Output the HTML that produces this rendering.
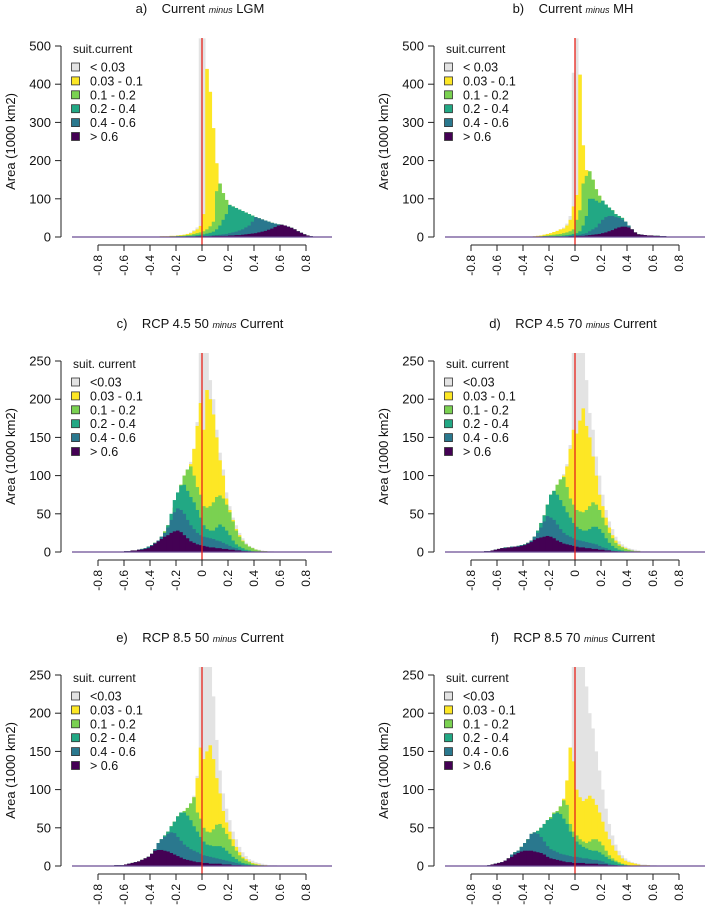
<!DOCTYPE html>
<html><head><meta charset="utf-8">
<style>
html,body{margin:0;padding:0;background:#fff;}
svg{display:block;font-family:"Liberation Sans",Arial,sans-serif;}
</style></head>
<body>
<svg id="chart" width="708" height="911" viewBox="0 0 708 911" xmlns="http://www.w3.org/2000/svg"></svg>
<script>
// ---- data: overlaid (cumulative) heights per class, bins of 0.025 starting at -0.8 ----
const binStart = -0.8;
const binWidth = 0.025;
const classLabelsA = ["< 0.03","0.03 - 0.1","0.1 - 0.2","0.2 - 0.4","0.4 - 0.6","> 0.6"];
const classLabelsC = ["<0.03","0.03 - 0.1","0.1 - 0.2","0.2 - 0.4","0.4 - 0.6","> 0.6"];
const xTickLabels = ["-0.8","-0.6","-0.4","-0.2","0","0.2","0.4","0.6","0.8"];
const xTickValues = [-0.8,-0.6,-0.4,-0.2,0,0.2,0.4,0.6,0.8];
const yTicksBig = [0,100,200,300,400,500];
const yTicksSmall = [0,50,100,150,200,250];

const aG = [0,0,0,0,0,0,0,0,0,0,0,0,0,0,0,0, 1,1,1,2, 2,2,3,3, 4,5,6,8, 12,18,25,520, 520,440,380,285, 193,140,115,97, 84,80,76,72, 68,64,60,56, 52,49,46,43, 40,37,35,33, 32,30,27,24, 20,15,11,7, 4,2,1,0];
const aY = [0,0,0,0,0,0,0,0,0,0,0,0,0,0,0,0, 1,1,1,2, 2,2,3,3, 4,5,6,8, 10,15,20,29, 60,440,380,285, 193,140,115,97, 84,80,76,72, 68,64,60,56, 52,49,46,43, 40,37,35,33, 32,30,27,24, 20,15,11,7, 4,2,1,0];
const aL = [0,0,0,0,0,0,0,0,0,0,0,0,0,0,0,0, 1,1,1,1, 1,1,2,2, 3,3,4,5, 6,8,10,12, 15,20,28,40, 120,140,115,97, 84,80,76,72, 68,64,60,56, 52,49,46,43, 40,37,35,33, 32,30,27,24, 20,15,11,7, 4,2,1,0];
const aT = [0,0,0,0,0,0,0,0,0,0,0,0,0,0,0,0, 1,1,1,1, 1,1,1,1, 2,2,2,3, 3,4,5,6, 7,9,11,14, 20,30,45,60, 84,80,76,72, 68,64,60,56, 52,49,46,43, 40,37,35,33, 32,30,27,24, 20,15,11,7, 4,2,1,0];
const aB = [0,0,0,0,0,0,0,0,0,0,0,0,0,0,0,0, 0,0,0,0, 1,1,1,1, 1,1,1,2, 2,2,2,3, 3,3,4,4, 5,6,7,8, 10,12,14,17, 20,25,30,40, 52,49,46,43, 40,37,35,33, 32,30,27,24, 20,15,11,7, 4,2,1,0];
const aP = [0,0,0,0,0,0,0,0,0,0,0,0,0,0,0,0, 0,0,0,0, 0,0,0,0, 1,1,1,1, 1,1,2,2, 2,2,2,3, 3,3,3,3, 4,4,5,5, 6,7,8,9, 10,12,14,16, 19,22,26,30, 32,30,27,24, 20,15,11,7, 4,2,1,0];

const bG = [0,0,0,0,0,0,0,0,0,0,0,0,0,0,0,0, 1,1,1,2, 3,4,6,8, 10,13,16,20, 25,35,55,430, 520,425,240,175, 172,150,125,108, 95,85,77,70, 60,55,50,40, 30,20,12,7, 6,5,4,4, 3,3,2,2, 1,1,0,0];
const bY = [0,0,0,0,0,0,0,0,0,0,0,0,0,0,0,0, 1,1,1,2, 3,4,6,8, 10,13,16,20, 22,30,45,80, 110,425,240,175, 172,150,125,108, 95,85,77,70, 60,55,50,40, 30,20,12,7, 6,5,4,4, 3,3,2,2, 1,1,0,0];
const bL = [0,0,0,0,0,0,0,0,0,0,0,0,0,0,0,0, 1,1,1,1, 1,2,3,4, 5,6,7,8, 10,12,15,20, 45,70,140,160, 172,150,125,108, 95,85,77,70, 60,55,50,40, 30,20,12,7, 6,5,4,4, 3,3,2,2, 1,1,0,0];
const bT = [0,0,0,0,0,0,0,0,0,0,0,0,0,0,0,0, 0,0,0,0, 1,1,2,2, 2,2,3,3, 4,5,6,8, 10,15,30,55, 100,100,95,90, 95,85,77,70, 60,55,50,40, 30,20,12,7, 6,5,4,4, 3,3,2,2, 1,1,0,0];
const bB = [0,0,0,0,0,0,0,0,0,0,0,0,0,0,0,0, 0,0,0,0, 0,0,0,0, 1,1,1,1, 1,2,3,4, 5,6,8,10, 15,20,25,35, 45,52,55,55, 52,50,45,40, 30,20,12,7, 6,5,4,4, 3,3,2,2, 1,1,0,0];
const bP = [0,0,0,0,0,0,0,0,0,0,0,0,0,0,0,0, 0,0,0,0, 0,0,0,0, 0,0,1,1, 1,1,2,2, 3,3,3,4, 5,6,7,8, 10,12,15,18, 22,25,27,27, 25,20,12,7, 6,5,4,4, 3,3,2,2, 1,1,0,0];

const cG = [0,0,0,0,0,0,0,0, 1,1,2,2, 3,4,5,7, 9,12,15,20, 27,35,45,58, 75,88,100,108, 118,135,170,262, 262,262,225,200, 160,130,108,78, 60,45,35,25, 18,12,8,6, 4,3,2,1, 1,1,0,0];
const cY = [0,0,0,0,0,0,0,0, 1,1,2,2, 3,4,5,7, 9,12,15,20, 27,35,45,58, 75,88,100,108, 115,135,165,195, 160,212,200,180, 150,120,100,70, 55,42,30,22, 15,10,7,5, 3,2,1,1, 0,0,0,0];
const cL = [0,0,0,0,0,0,0,0, 1,1,2,2, 3,4,5,7, 9,12,15,20, 27,35,45,58, 75,88,100,108, 112,100,85,75, 60,58,60,65, 72,74,70,62, 52,40,28,20, 14,10,7,5, 3,2,1,1, 0,0,0,0];
const cT = [0,0,0,0,0,0,0,0, 1,1,2,2, 3,4,5,7, 9,12,15,20, 25,35,50,68, 78,87,88,80, 72,65,55,45, 35,30,28,28, 32,36,33,28, 22,15,10,7, 5,3,2,1];
const cB = [0,0,0,0,0,0,0,0, 1,1,2,2, 3,4,5,7, 9,12,15,20, 25,32,42,52, 57,55,50,42, 35,30,25,22, 20,19,18,17, 15,14,12,10, 8,6,5,3, 2,1,1,0];
const cP = [0,0,0,0,0,0,0,0, 1,1,2,2, 3,3,4,5, 8,11,14,17, 20,22,25,27, 28,26,22,18, 14,12,10,9, 8,7,6,6, 5,5,4,4, 3,3,2,2, 1,1,0,0];

const dG = [0,0,0,0, 1,1,2,3, 4,5,6,6, 7,7,8,9, 10,12,15,20, 28,38,48,62, 75,80,88,95, 102,115,140,262, 262,262,262,225, 182,160,125,100, 75,55,40,30, 20,14,10,7, 5,4,3,2, 1,1,1,0];
const dY = [0,0,0,0, 1,1,2,3, 4,5,6,6, 7,7,8,9, 10,12,15,20, 28,38,48,62, 75,80,88,95, 100,112,135,160, 155,172,188,165, 150,125,100,75, 60,45,32,22, 15,10,7,5, 3,2,1,1];
const dL = [0,0,0,0, 1,1,2,3, 4,5,6,6, 7,7,8,9, 10,12,15,20, 28,38,48,62, 75,80,88,95, 98,85,70,62, 55,53,52,55, 60,65,62,55, 45,35,25,18, 12,8,6,4, 3,2,1,1];
const dT = [0,0,0,0, 1,1,2,3, 4,5,6,6, 7,7,8,9, 10,12,15,20, 28,38,48,62, 75,80,75,68, 60,52,45,38, 33,30,28,28, 30,33,33,30, 25,18,12,8, 5,3,2,1];
const dB = [0,0,0,0, 1,1,2,3, 4,5,6,6, 7,7,8,9, 10,12,15,20, 25,32,40,47, 45,42,36,30, 25,22,20,18, 16,15,14,13, 12,11,10,8, 6,5,3,2, 1,1,0,0];
const dP = [0,0,0,0, 1,1,2,3, 4,5,5,6, 6,7,7,8, 9,11,13,16, 18,19,20,21, 20,18,15,13, 11,10,9,8, 7,6,6,5, 5,4,4,3, 3,2,2,1, 1];

const eG = [0,0,0,0, 0,1,1,1, 2,3,4,5, 6,8,10,12, 16,22,30,35, 40,45,52,58, 65,70,72,76, 82,92,118,262, 262,262,262,222, 165,125,95,75, 60,45,35,25, 18,13,9,7, 5,4,3,2, 1,1,1,0];
const eY = [0,0,0,0, 0,1,1,1, 2,3,4,5, 6,8,10,12, 16,22,30,35, 40,45,52,58, 65,70,72,76, 80,90,115,155, 140,150,158,140, 115,95,72,57, 45,35,25,18, 12,9,6,4, 3,2,1,1];
const eL = [0,0,0,0, 0,1,1,1, 2,3,4,5, 6,8,10,12, 16,22,30,35, 40,45,52,58, 65,70,72,76, 82,90,70,62, 50,45,44,48, 54,55,50,42, 35,26,20,14, 10,7,5,3, 2,1,1,0];
const eT = [0,0,0,0, 0,1,1,1, 2,3,4,5, 6,8,10,12, 16,22,30,35, 40,45,52,58, 65,70,70,66, 60,52,45,38, 32,28,27,26, 26,26,24,20, 16,12,9,6, 4,3,2,1];
const eB = [0,0,0,0, 0,1,1,1, 2,3,4,5, 6,8,10,12, 16,22,30,35, 38,42,44,43, 38,33,28,25, 22,20,18,16, 14,13,12,11, 10,9,8,7, 6,5,4,3, 2,1,1,0];
const eP = [0,0,0,0, 0,1,1,1, 2,3,4,5, 6,8,10,12, 16,20,21,21, 20,19,17,15, 13,11,9,8, 7,6,5,5, 4,4,3,3, 3,3,2,2, 2,1,1,1];

const fG = [0,0,0,0, 0,1,2,3, 4,5,7,10, 15,18,20,25, 30,35,42,44, 46,50,55,60, 64,70,72,78, 88,110,155,262, 262,262,262,235, 200,180,150,125, 100,75,55,40, 28,20,14,10, 7,5,4,3, 2,2,1,1, 1];
const fY = [0,0,0,0, 0,1,2,3, 4,5,7,10, 15,18,20,25, 30,35,42,44, 46,50,55,60, 64,70,72,78, 88,112,155,137, 100,90,85,88, 92,88,80,70, 58,45,35,27, 20,14,10,7, 5,4,3,2, 1,1,1,0];
const fL = [0,0,0,0, 0,1,2,3, 4,5,7,10, 15,18,20,25, 30,35,42,44, 46,50,55,60, 64,70,72,78, 86,80,55,45, 40,35,32,30, 32,35,35,32, 27,20,14,10, 7,5,3,2, 1];
const fT = [0,0,0,0, 0,1,2,3, 4,5,7,10, 15,18,20,25, 30,35,42,44, 46,50,55,60, 62,68,70,68, 62,55,45,38, 32,28,25,23, 21,20,20,18, 15,12,9,7, 5,3,2,1];
const fB = [0,0,0,0, 0,1,2,3, 4,5,7,10, 15,18,20,25, 30,35,42,44, 42,38,32,26, 22,20,18,16, 15,14,13,12, 12,11,10,10, 9,8,8,7, 6,4,3,2, 1];
const fP = [0,0,0,0, 0,1,2,3, 4,5,7,10, 12,15,17,19, 20,20,20,19, 18,17,15,12, 10,9,8,7, 6,5,5,4, 4,4,4,3, 3,3,3,2, 2,2,1,1, 1];

const classColors = ["#e3e3e3","#fde725","#7ad151","#22a884","#2a788e","#440154"];

const svg = document.getElementById('chart');
const NS = "http://www.w3.org/2000/svg";
function mk(tag, attrs, parent){
  const e = document.createElementNS(NS, tag);
  for (const k in attrs) e.setAttribute(k, attrs[k]);
  (parent||svg).appendChild(e);
  return e;
}

const panels = [
  {id:"a", letter:"a)", pre:"Current", post:"LGM", ox:0, oy:0, yTicks:yTicksBig, legendTitle:"suit.current", labels:classLabelsA, series:[aG,aY,aL,aT,aB,aP]},
  {id:"b", letter:"b)", pre:"Current", post:"MH", ox:373, oy:0, yTicks:yTicksBig, legendTitle:"suit.current", labels:classLabelsA, series:[bG,bY,bL,bT,bB,bP]},
  {id:"c", letter:"c)", pre:"RCP 4.5 50", post:"Current", ox:0, oy:315, yTicks:yTicksSmall, legendTitle:"suit. current", labels:classLabelsC, series:[cG,cY,cL,cT,cB,cP]},
  {id:"d", letter:"d)", pre:"RCP 4.5 70", post:"Current", ox:373, oy:315, yTicks:yTicksSmall, legendTitle:"suit. current", labels:classLabelsC, series:[dG,dY,dL,dT,dB,dP]},
  {id:"e", letter:"e)", pre:"RCP 8.5 50", post:"Current", ox:0, oy:629, yTicks:yTicksSmall, legendTitle:"suit. current", labels:classLabelsC, series:[eG,eY,eL,eT,eB,eP]},
  {id:"f", letter:"f)", pre:"RCP 8.5 70", post:"Current", ox:373, oy:629, yTicks:yTicksSmall, legendTitle:"suit. current", labels:classLabelsC, series:[fG,fY,fL,fT,fB,fP]}
];

panels.forEach(p => {
  const g = mk('g', {transform:`translate(${p.ox},${p.oy})`});
  
  
  const yMax = p.yTicks[p.yTicks.length-1];
  const y0 = 237, yTop = 46;
  const ys = v => y0 - (v / yMax) * (y0 - yTop);
  const x0 = 202;
  const xs = v => x0 + v * 130;
  const clipTop = yTop - 8;

  const cp = mk('clipPath', {id:'clip-' + p.id}, g);
  mk('rect', {x:xs(-1), y:clipTop, width:xs(1)-xs(-1), height:y0-clipTop+1}, cp);

  const t = mk('text', {x:200, y:13, 'font-size':13, 'text-anchor':'middle', fill:'#111'}, g);
  
  
  const s1 = mk('tspan', {}, t); s1.textContent = p.letter + '\u00a0\u00a0\u00a0\u00a0' + p.pre + ' ';
  const s2 = mk('tspan', {'font-size':9, 'font-style':'italic'}, t); s2.textContent = 'minus';
  const s3 = mk('tspan', {}, t); s3.textContent = ' ' + p.post;

  const bars = mk('g', {'clip-path':`url(#clip-${p.id})`}, g);
  
  
  const nb = 68;
  p.series.forEach((arr, ci) => {
    for (let i = 0; i < nb; i++) {
      const v = arr[i] || 0;
      if (v <= 0) continue;
      const lo = binStart + i * binWidth;
      const xa = xs(lo), xb = xs(lo + binWidth);
      const r = mk('rect', {x:xa.toFixed(2), y:ys(v).toFixed(2), width:(xb-xa+0.3).toFixed(2), height:(y0-ys(v)).toFixed(2), fill:classColors[ci]}, bars);
      
      
    }
  });
  const bl = mk('line', {x1:xs(-1), x2:xs(1), y1:y0, y2:y0, stroke:'#6a4c93', 'stroke-width':1.2}, g);
  
  

  const rl = mk('line', {x1:xs(0), x2:xs(0), y1:clipTop, y2:245, stroke:'#e8231b', 'stroke-width':1.3}, g);
  
  

  const ya = mk('g', {}, g);
  
  
  mk('line', {x1:61, x2:61, y1:yTop, y2:y0, stroke:'#222', 'stroke-width':1}, ya);
  p.yTicks.forEach(v => {
    mk('line', {x1:55, x2:61, y1:ys(v), y2:ys(v), stroke:'#222'}, ya);
    const tl = mk('text', {x:51, y:ys(v)+4.5, 'font-size':13, 'text-anchor':'end', fill:'#111'}, ya);
    
    
    tl.textContent = v;
  });
  const yt = mk('text', {x:0, y:0, 'font-size':13, 'text-anchor':'middle', fill:'#111', transform:`translate(15,${(yTop+y0)/2}) rotate(-90)`}, g);
  
  
  yt.textContent = 'Area (1000 km2)';

  const xa = mk('g', {}, g);
  
  
  mk('line', {x1:xs(-0.8), x2:xs(0.8), y1:245, y2:245, stroke:'#222'}, xa);
  xTickValues.forEach((v, k) => {
    mk('line', {x1:xs(v), x2:xs(v), y1:245, y2:251, stroke:'#222'}, xa);
    const tl = mk('text', {x:0, y:0, 'font-size':12, 'text-anchor':'end', fill:'#111', transform:`translate(${xs(v)+4},255) rotate(-90)`}, xa);
    
    
    tl.textContent = xTickLabels[k];
  });

  const lg = mk('g', {}, g);
  
  
  const lt = mk('text', {x:73, y:yTop+7, 'font-size':12, fill:'#111'}, lg);
  
  
  lt.textContent = p.legendTitle;
  p.labels.forEach((lab, ci) => {
    const cy = yTop + 21 + ci * 13.9;
    const en = mk('g', {}, lg);
    
    
    mk('rect', {x:71.5, y:cy-4, width:8, height:8, fill:classColors[ci], stroke:'#333', 'stroke-width':0.8}, en);
    const tx = mk('text', {x:90, y:cy+4.5, 'font-size':12.5, fill:'#111'}, en);
    tx.textContent = lab;
  });
});
</script>
</body></html>
